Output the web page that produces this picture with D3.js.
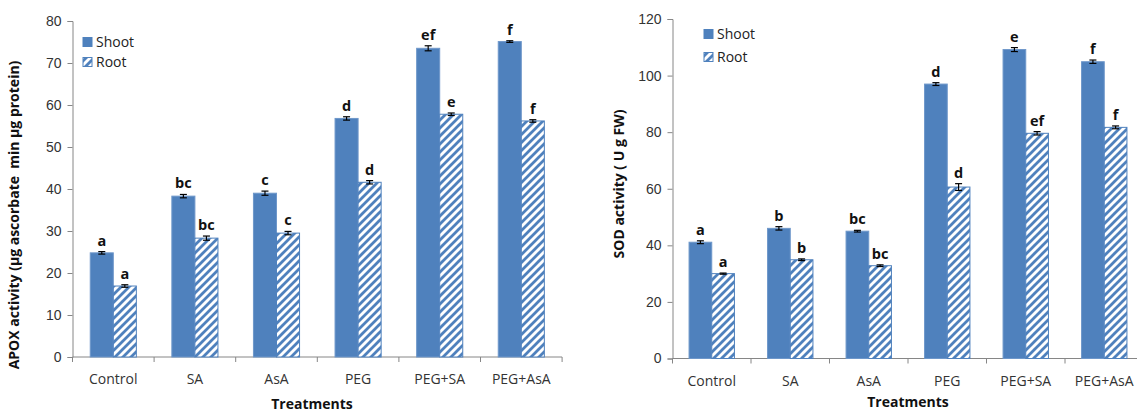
<!DOCTYPE html>
<html>
<head>
<meta charset="utf-8">
<script src="https://cdn.jsdelivr.net/npm/d3@7"></script>
<style>
  html, body { margin: 0; padding: 0; background: #fff; }
  svg { display: block; font-family: "Open Sans", "Liberation Sans", sans-serif; }
  .ytitle { white-space: pre; }
</style>
</head>
<body>
<svg id="chart" width="1137" height="412"></svg>
<script>
// Treatments shared by both panels
const treatments = ["Control", "SA", "AsA", "PEG", "PEG+SA", "PEG+AsA"];
const seriesNames = ["Shoot", "Root"];

// APOX activity (µg ascorbate min µg protein)
const apoxShoot = [24.8, 38.3, 39.0, 56.8, 73.5, 75.1];
const apoxRoot = [16.9, 28.3, 29.5, 41.6, 57.8, 56.2];
const apoxShootErr = [0.3, 0.4, 0.5, 0.4, 0.6, 0.2];
const apoxRootErr = [0.3, 0.5, 0.4, 0.4, 0.3, 0.3];
const apoxShootLetters = ["a", "bc", "c", "d", "ef", "f"];
const apoxRootLetters = ["a", "bc", "c", "d", "e", "f"];
const apoxTicks = [0, 10, 20, 30, 40, 50, 60, 70, 80];

// SOD activity (U g FW)
const sodShoot = [41.1, 46.0, 45.0, 97.0, 109.2, 104.9];
const sodRoot = [30.0, 34.9, 32.8, 60.6, 79.6, 81.7];
const sodShootErr = [0.5, 0.6, 0.3, 0.5, 0.7, 0.6];
const sodRootErr = [0.2, 0.3, 0.3, 1.2, 0.6, 0.5];
const sodShootLetters = ["a", "b", "bc", "d", "e", "f"];
const sodRootLetters = ["a", "b", "bc", "d", "ef", "f"];
const sodTicks = [0, 20, 40, 60, 80, 100, 120];

const blue = "#4F81BD";
const axisGray = "#868686";

const svg = d3.select("#chart");

// diagonal hatch used for the Root series
const defs = svg.append("defs");
const pat = defs.append("pattern")
  .attr("id", "hatch")
  .attr("patternUnits", "userSpaceOnUse")
  .attr("width", 8).attr("height", 8);
pat.append("rect").attr("width", 8).attr("height", 8).attr("fill", "#fff");
pat.append("path")
  .attr("d", "M-2,2 L2,-2 M0,8 L8,0 M6,10 L10,6")
  .attr("stroke", blue).attr("stroke-width", 2.8).attr("fill", "none");

function drawPanel(cfg) {
  const g = svg.append("g");
  const y = d3.scaleLinear().domain([0, cfg.yMax]).range([cfg.y0, cfg.yTop]);
  const x = d3.scaleBand().domain(treatments)
    .range([cfg.xLeft, cfg.xLeft + cfg.step * treatments.length])
    .paddingInner(0).paddingOuter(0);
  const inner = d3.scaleBand().domain(seriesNames)
    .range([0, x.bandwidth()]).paddingInner(0).paddingOuter(cfg.outerPad);

  // y axis
  const yAxis = g.append("g").attr("transform", `translate(${cfg.xLeft},0)`)
    .call(d3.axisLeft(y).tickValues(cfg.ticks).tickSize(5).tickPadding(6));
  yAxis.selectAll("path, line").attr("stroke", axisGray);
  yAxis.selectAll("text").attr("font-size", 14).attr("fill", "#333");

  // x axis: ticks on category boundaries
  const xAxisG = g.append("g");
  xAxisG.append("line")
    .attr("x1", cfg.xLeft).attr("x2", cfg.xLeft + cfg.step * treatments.length)
    .attr("y1", cfg.y0).attr("y2", cfg.y0).attr("stroke", axisGray);
  xAxisG.selectAll("line.tk").data(d3.range(treatments.length + 1)).join("line")
    .attr("class", "tk")
    .attr("x1", i => cfg.xLeft + i * cfg.step).attr("x2", i => cfg.xLeft + i * cfg.step)
    .attr("y1", cfg.y0).attr("y2", cfg.y0 + 5).attr("stroke", axisGray);
  xAxisG.selectAll("text").data(treatments).join("text")
    .attr("x", d => x(d) + x.bandwidth() / 2)
    .attr("y", cfg.y0 + 27)
    .attr("text-anchor", "middle")
    .attr("font-size", 14).attr("fill", "#333")
    .text(d => d);

  const series = [
    { name: "Shoot", vals: cfg.shoot, errs: cfg.shootErr, letters: cfg.shootLetters, fill: blue },
    { name: "Root", vals: cfg.root, errs: cfg.rootErr, letters: cfg.rootLetters, fill: "url(#hatch)" }
  ];

  series.forEach(s => {
    const rows = treatments.map((t, i) => ({ t, v: s.vals[i], e: s.errs[i], l: s.letters[i] }));
    const bx = d => x(d.t) + inner(s.name);
    const bw = inner.bandwidth();
    g.append("g").selectAll("rect").data(rows).join("rect")
      .attr("x", bx).attr("width", bw)
      .attr("y", d => y(d.v)).attr("height", d => y(0) - y(d.v))
      .attr("fill", s.fill)
      .attr("stroke", s.name === "Shoot" ? "#6E97CA" : blue)
      .attr("stroke-width", 1);

    const eb = g.append("g").attr("stroke", "#000").attr("stroke-width", 1.2);
    eb.selectAll("line.v").data(rows).join("line").attr("class", "v")
      .attr("x1", d => bx(d) + bw / 2).attr("x2", d => bx(d) + bw / 2)
      .attr("y1", d => y(d.v + d.e)).attr("y2", d => y(d.v - d.e));
    eb.selectAll("line.t").data(rows).join("line").attr("class", "t")
      .attr("x1", d => bx(d) + bw / 2 - 3.5).attr("x2", d => bx(d) + bw / 2 + 3.5)
      .attr("y1", d => y(d.v + d.e)).attr("y2", d => y(d.v + d.e));
    eb.selectAll("line.b").data(rows).join("line").attr("class", "b")
      .attr("x1", d => bx(d) + bw / 2 - 3.5).attr("x2", d => bx(d) + bw / 2 + 3.5)
      .attr("y1", d => y(d.v - d.e)).attr("y2", d => y(d.v - d.e));

    g.append("g").selectAll("text").data(rows).join("text")
      .attr("x", d => bx(d) + bw / 2)
      .attr("y", d => y(d.v + d.e) - 6)
      .attr("text-anchor", "middle")
      .attr("font-size", 14.5).attr("font-weight", "bold").attr("fill", "#111")
      .text(d => d.l);
  });

  // legend
  const lg = g.append("g");
  seriesNames.forEach((n, i) => {
    const ly = cfg.legendY + i * cfg.legendGap;
    lg.append("rect").attr("x", cfg.legendX).attr("y", ly - 4.5)
      .attr("width", 9).attr("height", 9)
      .attr("fill", n === "Shoot" ? blue : "url(#hatch)")
      .attr("stroke", blue).attr("stroke-width", 1);
    lg.append("text").attr("x", cfg.legendX + 13).attr("y", ly + 5)
      .attr("font-size", 14).attr("fill", "#222").text(n);
  });

  // axis titles
  g.append("text")
    .attr("class", "ytitle")
    .attr("transform", `translate(${cfg.yTitleX},${cfg.yTitleY}) rotate(-90)`)
    .attr("text-anchor", "middle")
    .attr("font-size", 14).attr("font-weight", "bold").attr("fill", "#111")
    .text(cfg.yTitle);
  g.append("text")
    .attr("x", cfg.xTitleX).attr("y", cfg.xTitleY)
    .attr("text-anchor", "middle")
    .attr("font-size", 14).attr("font-weight", "bold").attr("fill", "#111")
    .text("Treatments");
}

drawPanel({
  xLeft: 72.5, step: 81.6, y0: 357, yTop: 21, yMax: 80, ticks: apoxTicks, outerPad: 0.77,
  shoot: apoxShoot, root: apoxRoot, shootErr: apoxShootErr, rootErr: apoxRootErr,
  shootLetters: apoxShootLetters, rootLetters: apoxRootLetters,
  legendX: 83, legendY: 42, legendGap: 20,
  yTitle: "APOX activity (µg ascorbate  min µg protein)", yTitleX: 19, yTitleY: 215,
  xTitleX: 312, xTitleY: 409
});

drawPanel({
  xLeft: 672.5, step: 78.5, y0: 358.5, yTop: 19, yMax: 120, ticks: sodTicks, outerPad: 0.73,
  shoot: sodShoot, root: sodRoot, shootErr: sodShootErr, rootErr: sodRootErr,
  shootLetters: sodShootLetters, rootLetters: sodRootLetters,
  legendX: 704, legendY: 34, legendGap: 23,
  yTitle: "SOD activity ( U g FW)", yTitleX: 624, yTitleY: 184,
  xTitleX: 908, xTitleY: 407
});
</script>
</body>
</html>
